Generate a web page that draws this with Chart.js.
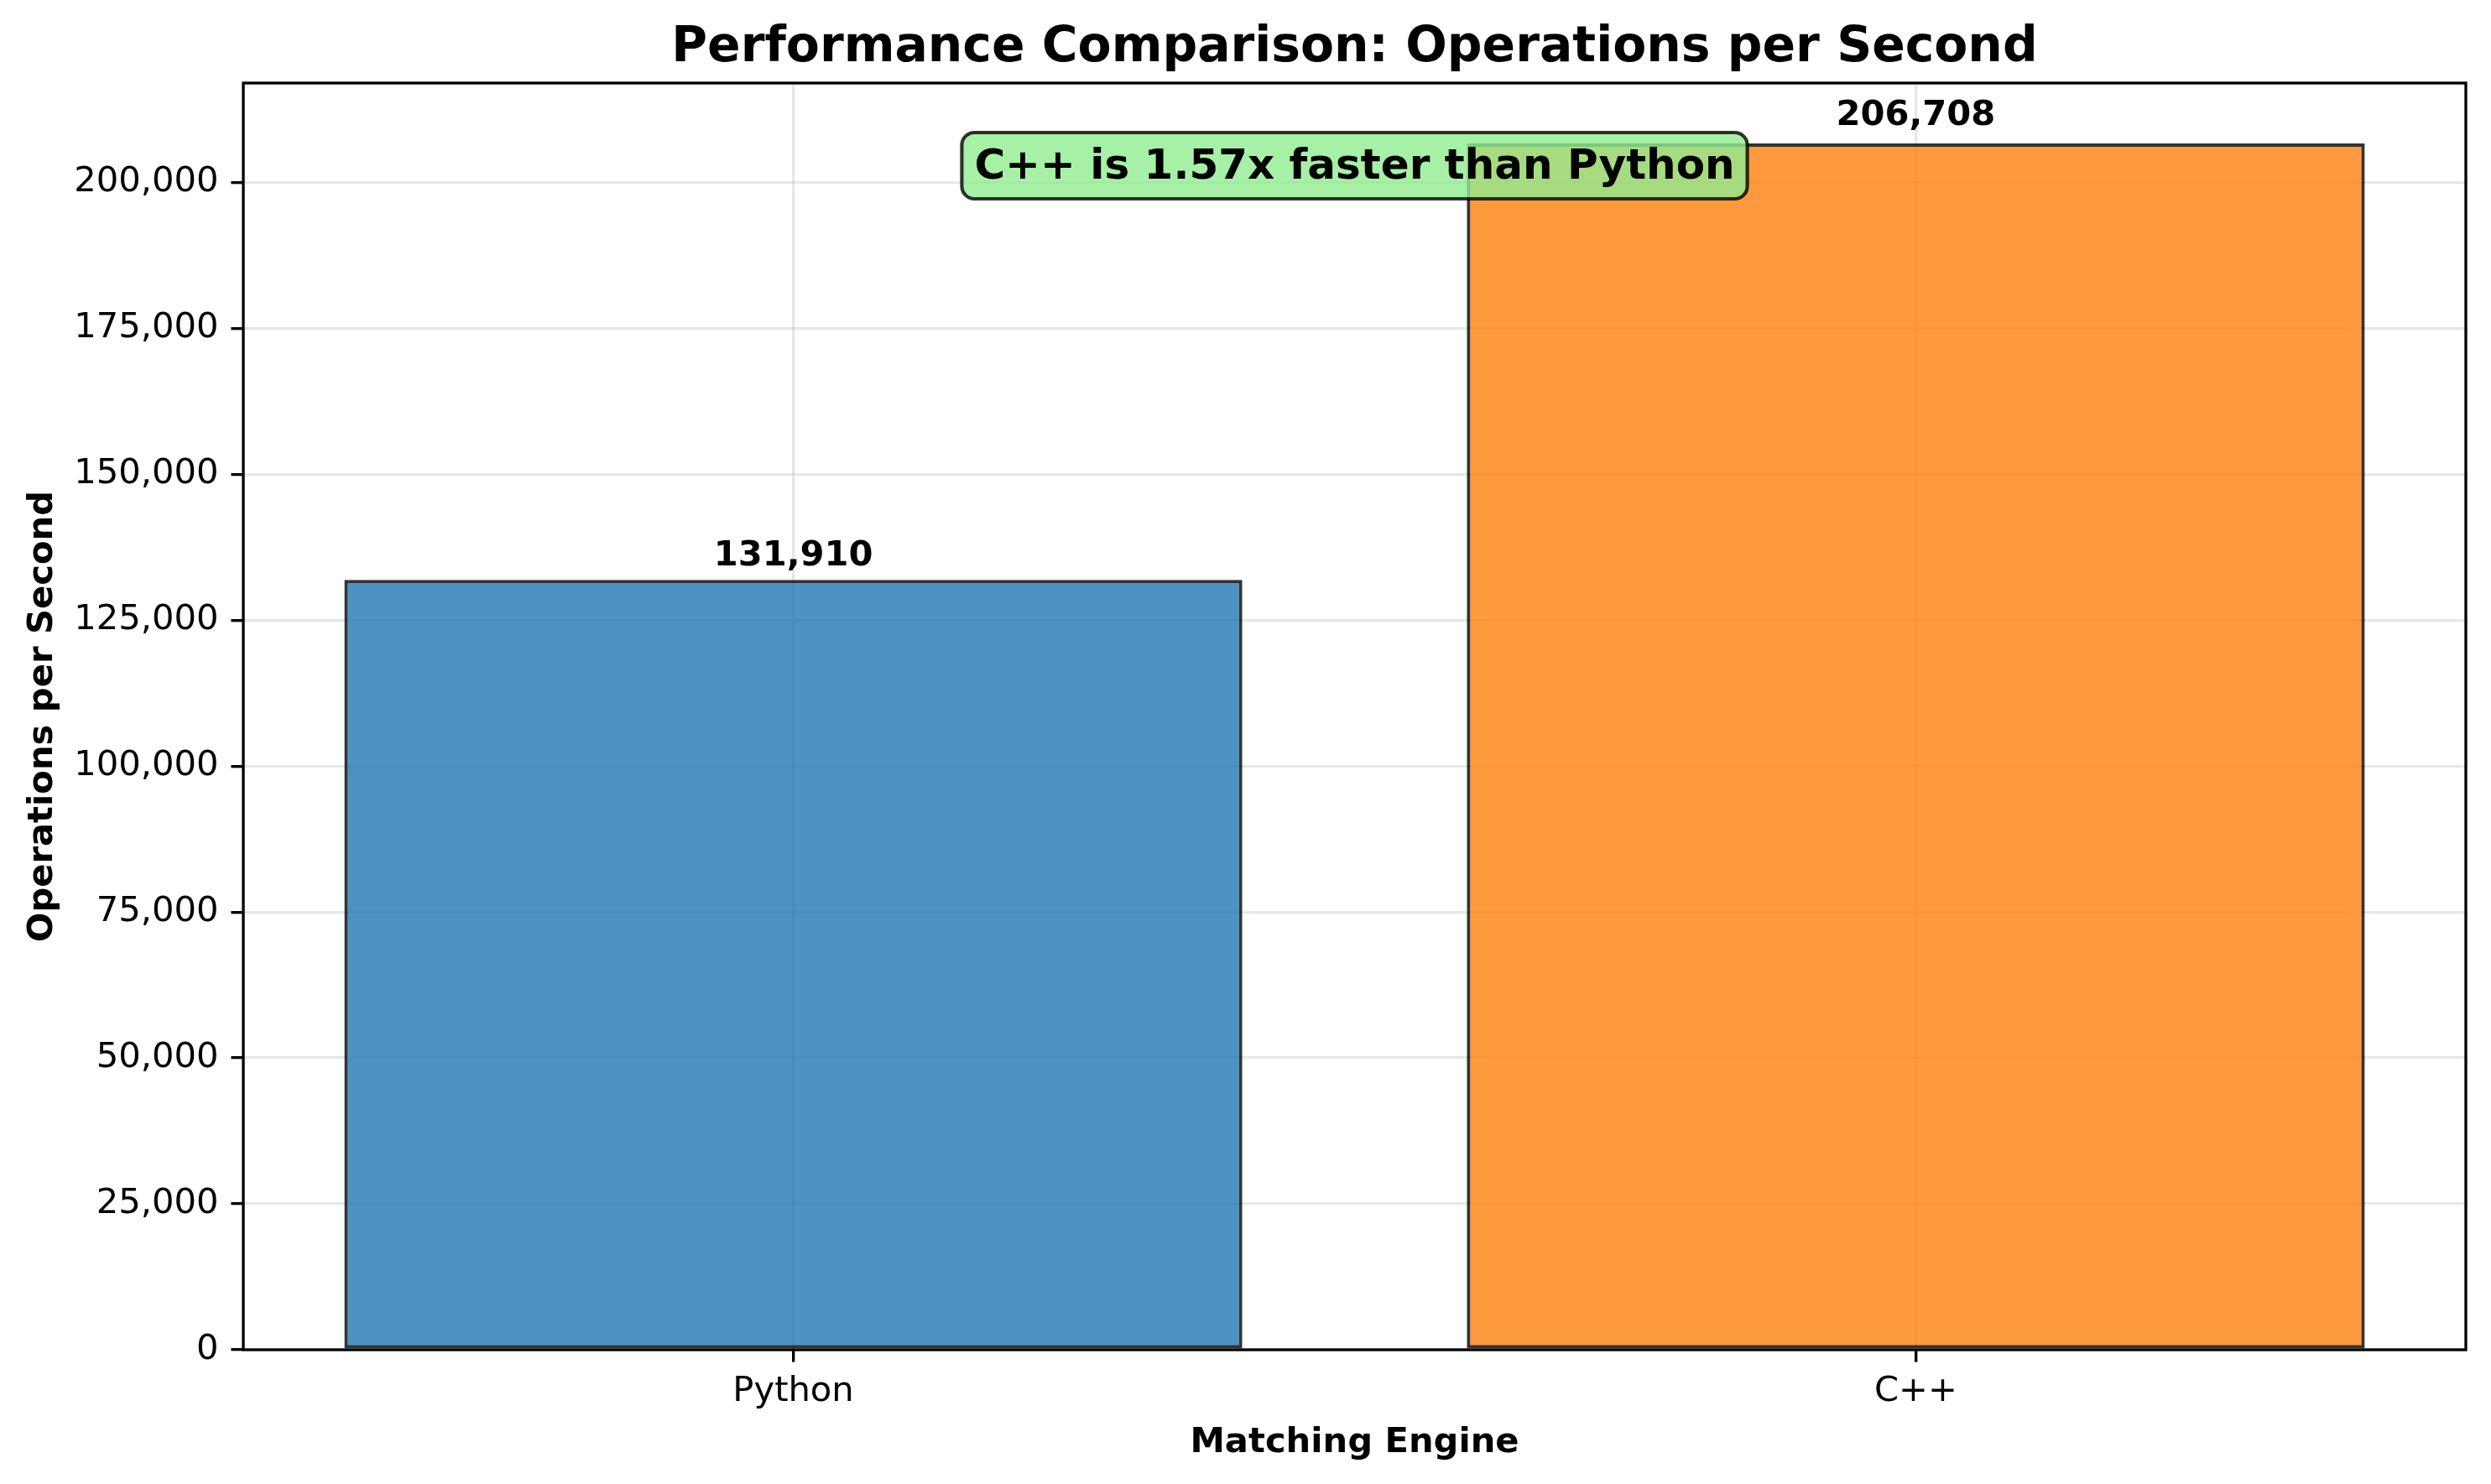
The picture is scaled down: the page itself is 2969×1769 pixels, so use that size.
<!DOCTYPE html>
<html>
<head>
<meta charset="utf-8">
<script src="https://cdn.jsdelivr.net/npm/chart.js@4.4.1/dist/chart.umd.min.js"></script>
<style>
  html, body { margin: 0; padding: 0; background: #ffffff; }
  canvas { display: block; }
</style>
</head>
<body>
<canvas id="c" width="2969" height="1769" style="width:2969px;height:1769px"></canvas>
<script>
// ---- data ----
const categories = ['Python', 'C++'];
const opsPerSecond = [131910, 206708];
const yTickValues = [0, 25000, 50000, 75000, 100000, 125000, 150000, 175000, 200000];
const barColors = ['rgba(31,119,180,0.8)', 'rgba(255,127,14,0.8)'];
const titleText = 'Performance Comparison: Operations per Second';
const xAxisTitle = 'Matching Engine';
const yAxisTitle = 'Operations per Second';
const speedup = (opsPerSecond[1] / opsPerSecond[0]).toFixed(2);
const annotationText = 'C++ is ' + speedup + 'x faster than Python';

// ---- styling ----
const FONT = "'DejaVu Sans', 'Liberation Sans', sans-serif";
const PT = 300 / 72;
const GRID = 'rgba(176,176,176,0.3)';

const overlay = {
  id: 'overlay',
  afterDraw(chart) {
    const ctx = chart.ctx;
    const a = chart.chartArea;
    const yScale = chart.scales.y;
    const cx = (a.left + a.right) / 2;
    const cy = (a.top + a.bottom) / 2;
    ctx.save();

    // axes frame (spines)
    ctx.strokeStyle = '#000';
    ctx.lineWidth = 0.8 * PT;
    ctx.strokeRect(a.left, a.top, a.right - a.left, a.bottom - a.top);

    // value labels above bars
    ctx.fillStyle = '#000';
    ctx.textAlign = 'center';
    ctx.textBaseline = 'alphabetic';
    ctx.font = 'bold ' + (10 * PT) + 'px ' + FONT;
    const meta = chart.getDatasetMeta(0);
    meta.data.forEach((bar, i) => {
      const v = opsPerSecond[i];
      ctx.fillText(v.toLocaleString('en-US'), bar.x, yScale.getPixelForValue(v * 1.01) - 8);
    });

    // annotation box
    const anchor = a.top + 0.05 * (a.bottom - a.top);
    ctx.font = 'bold ' + (12 * PT) + 'px ' + FONT;
    const w = ctx.measureText(annotationText).width;
    const pad = 0.3 * 12 * PT;
    const bx = cx - w / 2 - pad, bw = w + 2 * pad;
    const by = anchor - 16.5, bh = 79;
    ctx.beginPath();
    ctx.roundRect(bx, by, bw, bh, pad);
    ctx.fillStyle = 'rgba(144,238,144,0.8)';
    ctx.fill();
    ctx.lineWidth = PT;
    ctx.strokeStyle = 'rgba(0,0,0,0.8)';
    ctx.stroke();
    ctx.fillStyle = '#000';
    ctx.fillText(annotationText, cx, anchor + 38.5);

    // title
    ctx.font = 'bold ' + (14 * PT) + 'px ' + FONT;
    ctx.fillText(titleText, cx, a.top - 26);

    // x axis title
    ctx.font = 'bold ' + (10 * PT) + 'px ' + FONT;
    ctx.fillText(xAxisTitle, cx, a.bottom + 122);

    // y axis title
    ctx.translate(62, cy);
    ctx.rotate(-Math.PI / 2);
    ctx.fillText(yAxisTitle, 0, 0);

    ctx.restore();
  }
};

new Chart(document.getElementById('c'), {
  type: 'bar',
  data: {
    datasets: [{
      data: opsPerSecond.map((v, i) => ({ x: i, y: v })),
      backgroundColor: barColors,
      borderColor: 'rgba(0,0,0,0.8)',
      borderWidth: PT,
      borderSkipped: false,
      categoryPercentage: 0.8,
      barPercentage: 1.0
    }]
  },
  options: {
    responsive: false,
    animation: false,
    devicePixelRatio: 1,
    layout: { padding: { top: 99, right: 30, left: 0, bottom: 0 } },
    plugins: {
      legend: { display: false },
      title: { display: false },
      tooltip: { enabled: false }
    },
    scales: {
      x: {
        type: 'linear',
        min: -0.49,
        max: 1.49,
        offset: false,
        z: 1,
        afterBuildTicks: s => { s.ticks = categories.map((_, i) => ({ value: i })); },
        afterFit: s => { s.height = 160; },
        ticks: {
          callback: v => categories[v] !== undefined ? categories[v] : '',
          font: { family: FONT, size: 10 * PT },
          color: '#000',
          padding: 11,
          maxRotation: 0,
          autoSkip: false
        },
        grid: {
          offset: false,
          color: GRID,
          lineWidth: 0.8 * PT,
          tickColor: '#000',
          tickWidth: 0.8 * PT,
          tickLength: 3.5 * PT
        },
        border: { display: false }
      },
      y: {
        min: 0,
        max: Math.max(...opsPerSecond) * 1.05,
        z: 1,
        afterBuildTicks: s => { s.ticks = yTickValues.map(v => ({ value: v })); },
        afterFit: s => { s.width = 290; },
        ticks: {
          callback: v => Number(v).toLocaleString('en-US'),
          font: { family: FONT, size: 10 * PT },
          color: '#000',
          padding: 15
        },
        grid: {
          color: GRID,
          lineWidth: 0.8 * PT,
          tickColor: '#000',
          tickWidth: 0.8 * PT,
          tickLength: 3.5 * PT
        },
        border: { display: false }
      }
    }
  },
  plugins: [overlay]
});
</script>
</body>
</html>
